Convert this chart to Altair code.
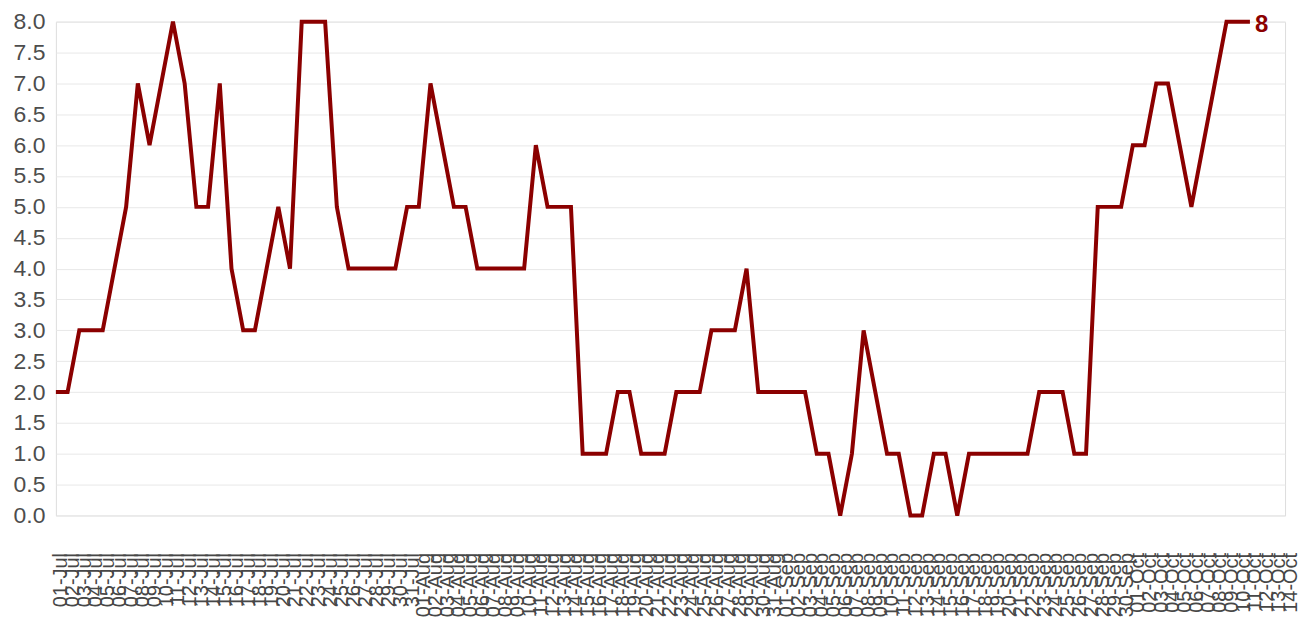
import json
import altair as alt
import pandas as pd

# values (one per day)
values = [2, 2, 3, 3, 3, 4, 5, 7, 6, 7,
          8, 7, 5, 5, 7, 4, 3, 3, 4, 5,
          4, 8, 8, 8, 5, 4, 4, 4, 4, 4,
          5, 5, 7, 6, 5, 5, 4, 4, 4, 4,
          4, 6, 5, 5, 5, 1, 1, 1, 2, 2,
          1, 1, 1, 2, 2, 2, 3, 3, 3, 4,
          2, 2, 2, 2, 2, 1, 1, 0, 1, 3,
          2, 1, 1, 0, 0, 1, 1, 0, 1, 1,
          1, 1, 1, 1, 2, 2, 2, 1, 1, 5,
          5, 5, 6, 6, 7, 7, 6, 5, 6, 7,
          8, 8, 8]

# tick labels (one per day; the axis runs a few days past the data)
dates = list(pd.date_range("2019-07-01", periods=len(values) + 3).strftime("%d-%b"))

y_ticks = [i * 0.5 for i in range(17)]

df = pd.DataFrame({"idx": list(range(len(values))), "value": values})
last = df.tail(1).assign(txt=lambda d: d["value"].astype(str))

label_expr = json.dumps(dates) + "[datum.value]"

x_axis = alt.Axis(
    values=list(range(len(dates))),
    labelExpr=label_expr,
    labelAngle=270,
    labelOverlap=False,
    labelFlush=False,
    labelFontSize=20,
    labelColor="#474747",
    labelFont="Liberation Sans",
    labelPadding=37,
    labelOffset=5,
    ticks=False,
    domain=False,
    grid=False,
    title=None,
)
y_axis = alt.Axis(
    values=y_ticks,
    format=".1f",
    labelOverlap=False,
    labelFontSize=23,
    labelColor="#4d4d4d",
    labelFont="Liberation Sans",
    labelPadding=11,
    ticks=False,
    domain=False,
    grid=True,
    gridColor="#e8e8e8",
    gridWidth=1,
    title=None,
)

x_enc = alt.X("idx:Q", scale=alt.Scale(domain=[0, 105.0], nice=False, zero=False), axis=x_axis)
y_enc = alt.Y("value:Q", scale=alt.Scale(domain=[0, 8], nice=False), axis=y_axis)

line = alt.Chart(df).mark_line(color="#8b0000", strokeWidth=4, strokeJoin="miter").encode(
    x=x_enc, y=y_enc
)

text = alt.Chart(last).mark_text(
    align="left", baseline="middle", dx=5, dy=3, fontSize=24, fontWeight="bold",
    color="#8b0000", font="Liberation Sans"
).encode(x=x_enc, y=y_enc, text="txt:N")

chart = (line + text).properties(
    width=1232, height=495,
    padding={"left": 5, "top": 2, "right": 0, "bottom": 0},
).configure_view(stroke=None).configure_axis(labelOverlap=False).configure(background="white")

chart.save("out.html", embed_options={"renderer": "svg", "actions": False})
